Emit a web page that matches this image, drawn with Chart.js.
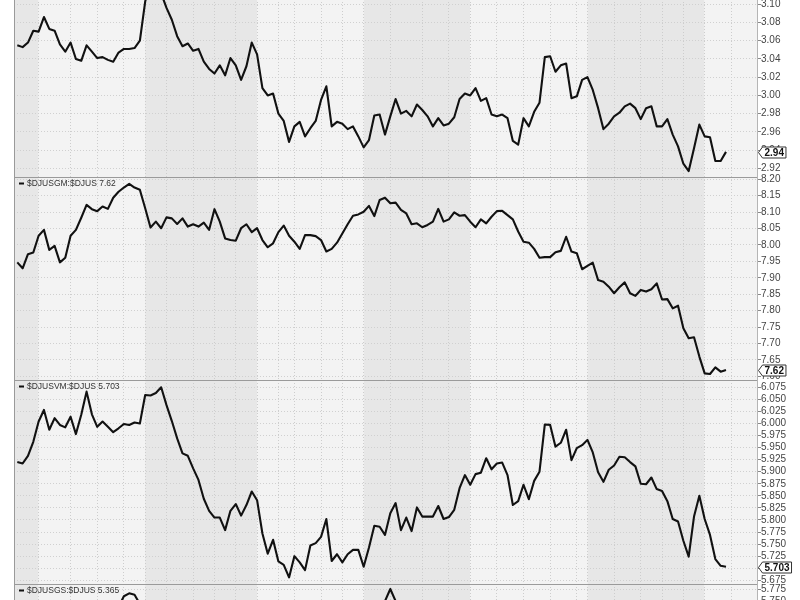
<!DOCTYPE html>
<html><head><meta charset="utf-8">
<script src="https://cdn.jsdelivr.net/npm/chart.js@4/dist/chart.umd.min.js"></script>
<style>
html,body{margin:0;padding:0;background:#fff;overflow:hidden;width:800px;height:600px;position:relative}
canvas{position:absolute;left:0}
</style></head><body>
<canvas id="c1"></canvas><canvas id="c2"></canvas><canvas id="c3"></canvas><canvas id="c4"></canvas>
<script>
// ---- data ----
const days = Array.from({length:134}, (_, i) => i);   // trading-day index
const monthStarts = [4, 24, 45, 65, 85, 107, 129];
const weekLines = [4,10,15,20,24,28,33,37,41,45,49,52,57,61,65,70,76,81,85,90,95,100,105,107,112,117,121,125,129,134];

const names = ['', '$DJUSGM:$DJUS', '$DJUSVM:$DJUS', '$DJUSGS:$DJUS'];

const seriesTop = [3.055,3.053,3.058,3.071,3.070,3.086,3.073,3.071,3.056,3.048,
 3.058,3.040,3.038,3.055,3.048,3.041,3.042,3.039,3.037,3.047,
 3.051,3.051,3.052,3.060,3.103,3.125,3.130,3.112,3.096,3.083,
 3.065,3.054,3.057,3.049,3.051,3.037,3.029,3.024,3.033,3.022,
 3.041,3.033,3.017,3.032,3.058,3.045,3.008,3.000,3.002,2.980,
 2.972,2.949,2.966,2.971,2.955,2.964,2.972,2.995,3.010,2.966,
 2.971,2.969,2.963,2.966,2.955,2.943,2.951,2.978,2.979,2.957,
 2.977,2.996,
 2.980,2.983,2.977,2.990,2.984,2.977,2.966,2.975,2.967,2.969,
 2.976,2.996,3.002,3.000,3.008,2.994,2.997,2.979,2.977,2.979,
 2.975,2.950,2.946,2.975,2.966,2.982,2.992,3.042,3.043,3.026,
 3.033,3.035,2.997,2.999,3.017,3.020,3.006,2.986,2.963,2.969,
 2.977,2.981,2.988,2.991,2.986,2.974,2.986,2.988,2.966,2.966,
 2.974,2.957,2.944,2.925,2.917,2.942,2.968,2.955,2.954,2.928,
 2.928,2.938];

const seriesGM = [7.947,7.929,7.972,7.977,8.028,8.046,7.985,7.997,7.947,7.961,
 8.028,8.046,8.083,8.122,8.109,8.103,8.117,8.110,8.144,8.162,
 8.175,8.186,8.175,8.168,8.112,8.053,8.071,8.051,8.084,8.081,
 8.064,8.081,8.056,8.063,8.056,8.068,8.046,8.109,8.071,8.020,
 8.015,8.013,8.051,8.063,8.039,8.051,8.015,7.993,8.005,8.039,
 8.059,8.028,8.010,7.988,8.030,8.030,8.027,8.015,7.980,7.988,
 8.007,8.035,8.063,8.089,8.093,8.101,8.119,8.088,8.137,8.144,
 8.127,8.129,
 8.107,8.096,8.063,8.066,8.054,8.061,8.071,8.110,8.071,8.078,
 8.099,8.089,8.091,8.071,8.054,8.078,8.066,8.086,8.103,8.104,
 8.091,8.078,8.041,8.010,8.007,7.988,7.961,7.963,7.963,7.978,
 7.982,8.025,7.980,7.975,7.926,7.936,7.946,7.893,7.888,7.873,
 7.853,7.871,7.886,7.853,7.845,7.863,7.858,7.865,7.883,7.834,
 7.835,7.807,7.815,7.746,7.716,7.719,7.660,7.609,7.607,7.627,
 7.614,7.619];

const seriesVM = [5.920,5.917,5.933,5.962,6.004,6.028,5.987,6.011,5.997,5.992,
 6.014,5.978,6.018,6.066,6.019,5.993,6.004,5.993,5.982,5.990,
 5.999,5.997,6.002,6.000,6.059,6.058,6.063,6.075,6.038,6.005,
 5.969,5.938,5.933,5.907,5.883,5.844,5.819,5.805,5.805,5.779,
 5.819,5.833,5.809,5.831,5.859,5.841,5.772,5.730,5.759,5.714,
 5.707,5.681,5.725,5.712,5.696,5.747,5.752,5.765,5.802,5.715,
 5.729,5.712,5.729,5.738,5.738,5.703,5.743,5.788,5.786,5.769,
 5.814,5.835,
 5.779,5.805,5.777,5.826,5.807,5.807,5.807,5.829,5.802,5.806,
 5.821,5.866,5.893,5.873,5.895,5.898,5.928,5.905,5.917,5.919,
 5.893,5.831,5.839,5.873,5.843,5.881,5.900,5.998,5.997,5.952,
 5.960,5.987,5.924,5.949,5.955,5.966,5.940,5.899,5.879,5.904,
 5.913,5.931,5.930,5.920,5.911,5.875,5.874,5.888,5.864,5.860,
 5.839,5.802,5.797,5.757,5.724,5.807,5.850,5.802,5.769,5.719,
 5.705,5.703];

// bottom panel: only the two peaks near its top edge are visible; last value from label
const seriesGS = days.map(() => null);
const gsKnownIdx = [19, 20, 21, 22, 23, 68, 69, 70, 71, 72, 133];
const gsKnownVal = [5.738, 5.760, 5.766, 5.763, 5.744, 5.725, 5.750, 5.775, 5.750, 5.725, 5.365];
gsKnownIdx.forEach((d, k) => { seriesGS[d] = gsKnownVal[k]; });

const ticksTop = ['2.92','2.94','2.96','2.98','3.00','3.02','3.04','3.06','3.08','3.10','3.12','3.14'];
const ticksGM = ['7.60','7.65','7.70','7.75','7.80','7.85','7.90','7.95','8.00','8.05','8.10','8.15','8.20'];
const ticksVM = ['5.675','5.700','5.725','5.750','5.775','5.800','5.825','5.850','5.875','5.900','5.925','5.950','5.975','6.000','6.025','6.050','6.075'];
const ticksGS = ['5.350','5.375','5.400','5.425','5.450','5.475','5.500','5.525','5.550','5.575','5.600','5.625','5.650','5.675','5.700','5.725','5.750','5.775'];

// ---- layout ----
const panels = [
  {id:'c1', top:-40, bottom:177, yMin:2.91045, yMax:3.14862, dec:2, values:seriesTop, ticks:ticksTop, name:names[0]},
  {id:'c2', top:177, bottom:380, yMin:7.5887, yMax:8.2070, dec:2, values:seriesGM, ticks:ticksGM, name:names[1]},
  {id:'c3', top:380, bottom:584, yMin:5.6673, yMax:6.0901, dec:3, values:seriesVM, ticks:ticksVM, name:names[2]},
  {id:'c4', top:584, bottom:800, yMin:5.3377, yMax:5.7854, dec:3, values:seriesGS, ticks:ticksGS, name:names[3]}
];
const PAD = 10;
const FONT = '"Liberation Sans", Arial, sans-serif';

const decor = {
  id: 'decor',
  beforeDraw(chart, args, o) {
    const {ctx, chartArea: a, scales: {x}} = chart;
    const edges = [x.min, ...monthStarts, x.max];
    ctx.save();
    for (let k = 0; k < edges.length - 1; k++) {
      const x0 = x.getPixelForValue(edges[k]), x1 = x.getPixelForValue(edges[k + 1]);
      ctx.fillStyle = (k % 2 === 0) ? '#e7e7e7' : '#f3f3f3';
      ctx.fillRect(x0, a.top, x1 - x0, a.bottom - a.top);
    }
    ctx.restore();
  },
  afterDatasetsDraw(chart, args, o) {
    const {ctx, chartArea: a, scales: {y}} = chart;
    ctx.save();
    // frame
    ctx.strokeStyle = '#9a9a9a'; ctx.lineWidth = 1;
    ctx.beginPath();
    ctx.moveTo(a.left + 0.5, a.top); ctx.lineTo(a.left + 0.5, a.bottom);
    ctx.moveTo(a.left, a.top + 0.5); ctx.lineTo(a.right, a.top + 0.5);
    ctx.stroke();
    // title
    const vals = o.values;
    let last = null;
    for (let i = vals.length - 1; i >= 0; i--) { if (vals[i] != null) { last = vals[i]; break; } }
    if (o.name) {
      const ty = a.top + 6.5;
      ctx.fillStyle = '#111';
      ctx.fillRect(a.left + 5, ty - 1, 5, 2);
      ctx.fillStyle = '#333';
      ctx.font = '8.5px ' + FONT;
      ctx.textBaseline = 'middle'; ctx.textAlign = 'left';
      ctx.fillText(o.name + ' ' + last.toFixed(o.dec), a.left + 13, ty);
    }
    // value tag
    const txt = last.toFixed(o.dec);
    const yy = Math.round(y.getPixelForValue(last)) + 0.5;
    ctx.font = 'bold 10px ' + FONT;
    const tw = ctx.measureText(txt).width;
    const x0 = a.right + 1.5, bx = x0 + 4, bw = tw + 4, bh = 11;
    ctx.beginPath();
    ctx.moveTo(x0, yy);
    ctx.lineTo(bx, yy - bh / 2); ctx.lineTo(bx + bw, yy - bh / 2);
    ctx.lineTo(bx + bw, yy + bh / 2); ctx.lineTo(bx, yy + bh / 2);
    ctx.closePath();
    ctx.fillStyle = '#fff'; ctx.fill();
    ctx.strokeStyle = '#333'; ctx.lineWidth = 1; ctx.stroke();
    ctx.fillStyle = '#111'; ctx.textBaseline = 'middle'; ctx.textAlign = 'left';
    ctx.fillText(txt, bx + 2, yy + 0.5);
    ctx.restore();
  }
};

panels.forEach(p => {
  const cv = document.getElementById(p.id);
  const h = p.bottom - p.top + 2 * PAD;
  cv.width = 800; cv.height = h;
  cv.style.width = '800px'; cv.style.height = h + 'px';
  cv.style.top = (p.top - PAD) + 'px';
  const tickVals = p.ticks.map(parseFloat);
  new Chart(cv, {
    type: 'line',
    data: {
      datasets: [{
        data: p.values.map((v, i) => ({x: days[i], y: v})),
        borderColor: '#111', borderWidth: 2.1, pointRadius: 0, tension: 0,
        spanGaps: false, fill: false, borderJoinStyle: 'round'
      }]
    },
    options: {
      responsive: false, animation: false, devicePixelRatio: 1, events: [],
      layout: {padding: {left: 14, right: 0, top: PAD, bottom: PAD}},
      plugins: {legend: {display: false}, tooltip: {enabled: false},
        decor: {name: p.name, values: p.values, dec: p.dec}},
      scales: {
        x: {
          type: 'linear', position: 'bottom', min: -0.62, max: 138.82, bounds: 'data',
          afterBuildTicks: s => { s.ticks = weekLines.map(v => ({value: v})); },
          afterFit: s => { s.height = 0; },
          ticks: {display: false},
          grid: {color: '#cdcdcd', drawTicks: false, lineWidth: 1},
          border: {display: false, dash: [1, 2]}
        },
        y: {
          type: 'linear', position: 'right', min: p.yMin, max: p.yMax, bounds: 'data',
          afterBuildTicks: s => { s.ticks = tickVals.filter(v => v >= p.yMin - 1e-9 && v <= p.yMax + 1e-9).map(v => ({value: v})); },
          afterFit: s => { s.width = 43; },
          ticks: {autoSkip: false, padding: 0, color: '#444', font: {family: FONT, size: 10},
            callback: (v) => p.ticks[tickVals.indexOf(v)] ?? v.toFixed(p.dec === 2 ? 2 : 3)},
          grid: {color: '#d0d0d0', drawTicks: true, tickLength: 4, tickColor: '#888', tickBorderDash: [], lineWidth: 1},
          border: {display: true, color: '#b5b5b5', dash: [1, 2]}
        }
      }
    },
    plugins: [decor]
  });
});
</script>
</body></html>
